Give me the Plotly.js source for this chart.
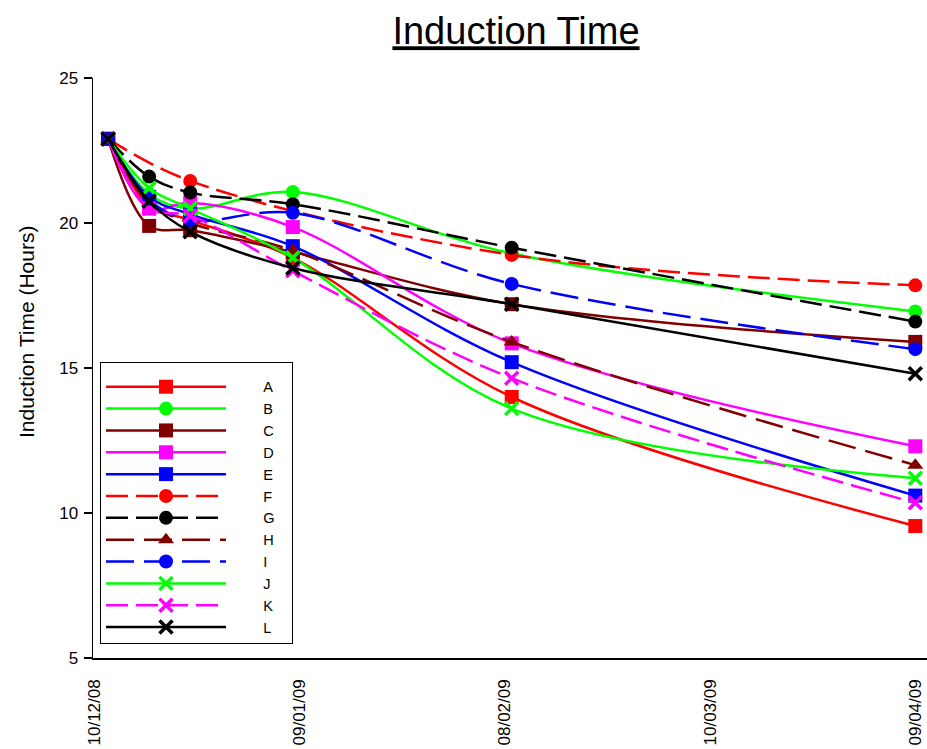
<!DOCTYPE html>
<html>
<head>
<meta charset="utf-8">
<script src="https://cdn.plot.ly/plotly-3.0.1.min.js"></script>
<style>html,body{margin:0;padding:0;background:#fff;}#chart{width:927px;height:749px;}</style>
</head>
<body>
<div id="chart"></div>
<script>
// Measurement dates
var dates = ['2008-12-12', '2008-12-18', '2008-12-24', '2009-01-08', '2009-02-09', '2009-04-09'];
// Tick dates and labels (DD/MM/YY)
var tickDates = ['2008-12-10', '2009-01-09', '2009-02-08', '2009-03-10', '2009-04-09'];
var tickLabels = ['10/12/08', '09/01/09', '08/02/09', '10/03/09', '09/04/09'];

// Series values (hours)
var seriesNames = ['A', 'B', 'C', 'D', 'E', 'F', 'G', 'H', 'I', 'J', 'K', 'L'];
var A = [22.9, 20.6, 20.1, 18.8, 14.0, 9.55];
var B = [22.9, 21.0, 20.5, 21.07, 18.95, 16.95];
var C = [22.9, 19.9, 19.75, 19.0, 17.2, 15.9];
var D = [22.9, 20.5, 20.7, 19.86, 15.85, 12.3];
var E = [22.9, 20.9, 20.3, 19.2, 15.2, 10.6];
var F = [22.9, null, 21.45, null, 18.9, 17.85];
var G = [22.9, 21.6, 21.05, 20.65, 19.15, 16.6];
var H = [22.9, 20.7, 20.0, 19.05, 15.9, 11.65];
var I = [22.9, 20.8, 20.1, 20.35, 17.9, 15.65];
var J = [22.9, 21.2, 20.5, 18.8, 13.6, 11.2];
var K = [22.9, 20.5, 20.25, 18.35, 14.65, 10.35];
var L = [22.9, 20.75, 19.7, 18.45, 17.2, 14.8];
var seriesValues = [A, B, C, D, E, F, G, H, I, J, K, L];

// Styles
var colors = ['#ff0000', '#00ff00', '#800000', '#ff00ff', '#0000ff', '#ff0000', '#000000', '#800000', '#0000ff', '#00ff00', '#ff00ff', '#000000'];
var symbols = ['square', 'circle', 'square', 'square', 'square', 'circle', 'circle', 'triangle-up', 'circle', 'x-thin-open', 'x-thin-open', 'x-thin-open'];
var dashes = ['solid', 'solid', 'solid', 'solid', 'solid', '22px,8px', '22px,8px', '28px,10px', '28px,10px', 'solid', '22px,8px', 'solid'];

var font = 'Arial, "Liberation Sans", sans-serif';
var NB = '\u00a0';
var padL = NB + NB + NB + NB + NB + NB + NB + NB;
var padR = NB + NB + NB;

var traces = seriesNames.map(function (name, i) {
  var isX = symbols[i].indexOf('x') === 0;
  return {
    type: 'scatter',
    mode: 'lines+markers',
    name: padL + name + padR,
    x: dates,
    y: seriesValues[i],
    connectgaps: true,
    line: { color: colors[i], width: 2.5, dash: dashes[i], shape: 'spline', smoothing: 1 },
    marker: {
      symbol: symbols[i],
      size: isX ? 13 : 14,
      color: colors[i],
      line: { color: colors[i], width: isX ? 3.5 : 0 }
    }
  };
});

var layout = {
  width: 927,
  height: 749,
  margin: { l: 93, r: 0, t: 78, b: 91 },
  paper_bgcolor: '#ffffff',
  plot_bgcolor: '#ffffff',
  font: { family: font, color: '#000000' },
  showlegend: true,
  title: {
    text: '<u>Induction Time</u>',
    font: { family: font, size: 38, color: '#000000' },
    x: 516 / 927,
    xanchor: 'center',
    xref: 'container',
    y: 1 - 31 / 749,
    yanchor: 'middle',
    yref: 'container'
  },
  xaxis: {
    type: 'date',
    range: ['2008-12-09 19:00', '2009-04-10 17:00'],
    tickvals: tickDates,
    ticktext: tickLabels,
    tickangle: -90,
    tickfont: { family: font, size: 17, color: '#000000' },
    ticks: '',
    ticklabelstandoff: 13,
    showgrid: false,
    zeroline: false,
    showline: true,
    linecolor: '#000000',
    linewidth: 1.5,
    mirror: false
  },
  yaxis: {
    range: [5, 25],
    tickvals: [5, 10, 15, 20, 25],
    ticks: 'outside',
    ticklen: 8,
    tickwidth: 1.5,
    tickcolor: '#000000',
    tickfont: { family: font, size: 17, color: '#000000' },
    ticklabelstandoff: 2,
    showgrid: false,
    zeroline: false,
    showline: true,
    linecolor: '#000000',
    linewidth: 1.5
  },
  legend: {
    x: 7 / 834,
    xanchor: 'left',
    y: 14 / 580,
    yanchor: 'bottom',
    bgcolor: '#ffffff',
    bordercolor: '#000000',
    borderwidth: 1,
    itemwidth: 120,
    title: { text: NB, font: { family: font, size: 6 } },
    font: { family: font, size: 14.5, color: '#000000' },
    traceorder: 'normal'
  },
  annotations: [{
    text: 'Induction Time (Hours)',
    xref: 'paper', yref: 'paper',
    x: -67 / 834, y: (658 - 332) / 580,
    xanchor: 'center', yanchor: 'middle',
    textangle: -90,
    showarrow: false,
    font: { family: font, size: 21, color: '#000000' }
  }]
};

Plotly.newPlot('chart', traces, layout, { displayModeBar: false, staticPlot: true });
</script>
</body>
</html>
